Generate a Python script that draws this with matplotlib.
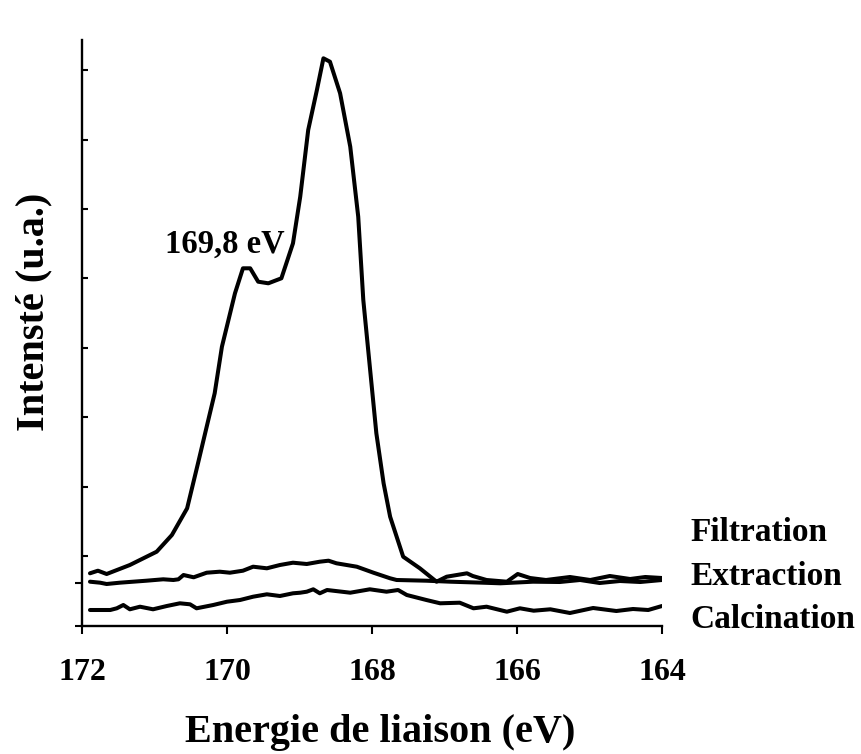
import numpy as np
import matplotlib
matplotlib.use('Agg')
import matplotlib.pyplot as plt

plt.rcParams['font.family'] = ['Liberation Serif', 'DejaVu Serif']
plt.rcParams['font.weight'] = 'bold'

# binding energy (eV) and intensity (a.u.)
filt_ev = [171.89, 171.78, 171.66, 171.34, 170.97, 170.76, 170.55, 170.40, 170.28, 170.17,
           170.07, 169.89, 169.78, 169.68, 169.57, 169.43, 169.25, 169.09, 168.99, 168.88,
           168.76, 168.67, 168.58, 168.44, 168.30, 168.19, 168.12, 168.03, 167.94, 167.84,
           167.75, 167.57, 167.34, 167.11, 166.97, 166.69, 166.61, 166.42, 166.14, 165.99,
           165.82, 165.60, 165.27, 164.99, 164.72, 164.44, 164.23, 164.00]
filt_int = [527, 553, 520, 610, 743, 910, 1177, 1627, 1993, 2327,
            2793, 3327, 3577, 3577, 3443, 3427, 3477, 3827, 4293, 4960,
            5360, 5677, 5643, 5327, 4793, 4093, 3260, 2593, 1927, 1427,
            1093, 693, 577, 443, 493, 527, 500, 460, 443, 520,
            480, 460, 490, 460, 500, 470, 490, 480]

extr_ev = [171.89, 171.75, 171.66, 171.48, 171.11, 170.88, 170.74, 170.67, 170.60, 170.46,
           170.28, 170.10, 169.96, 169.78, 169.64, 169.45, 169.27, 169.09, 168.90, 168.72,
           168.60, 168.49, 168.21, 167.98, 167.75, 167.66, 167.25, 166.92, 166.47, 166.23,
           165.78, 165.41, 165.13, 164.86, 164.58, 164.30, 164.00]
extr_int = [443, 433, 420, 433, 453, 467, 460, 467, 510, 487,
            533, 543, 533, 553, 593, 577, 610, 633, 620, 643,
            653, 627, 593, 533, 477, 460, 453, 443, 433, 427,
            443, 440, 460, 430, 450, 440, 460]

calc_ev = [171.89, 171.61, 171.52, 171.43, 171.34, 171.20, 171.02, 170.83, 170.65, 170.51,
           170.42, 170.19, 170.00, 169.82, 169.64, 169.45, 169.27, 169.09, 168.99, 168.90,
           168.81, 168.72, 168.62, 168.30, 168.03, 167.80, 167.64, 167.52, 167.25, 167.06,
           166.79, 166.60, 166.42, 166.14, 165.96, 165.77, 165.54, 165.27, 164.95, 164.63,
           164.40, 164.19, 164.00]
calc_int = [160, 160, 177, 210, 167, 193, 167, 200, 227, 217,
            177, 210, 243, 260, 293, 317, 300, 327, 333, 343,
            367, 327, 360, 333, 367, 343, 360, 310, 260, 227,
            233, 177, 193, 143, 177, 153, 167, 130, 180, 150,
            170, 160, 200]

labels = ['Filtration', 'Extraction', 'Calcination']
label_y = [850, 410, -20]
x_ticks = [172, 170, 168, 166, 164]
y_minor = [700, 1394, 2088, 2782, 3476, 4170, 4864, 5558]

fig = plt.figure(figsize=(8.62, 7.54), dpi=100)
ax = fig.add_axes([82/862, 128/754, 580/862, 586/754])

for ev, inten in [(filt_ev, filt_int), (extr_ev, extr_int), (calc_ev, calc_int)]:
    ax.plot(ev, inten, color='black', lw=2.9, solid_joinstyle='round', solid_capstyle='round')

ax.set_xlim(172, 164)
ax.set_ylim(0, 5860)
ax.spines['top'].set_visible(False)
ax.spines['right'].set_visible(False)
ax.spines['left'].set_linewidth(1.7)
ax.spines['bottom'].set_linewidth(1.7)

ax.set_xticks(x_ticks)
ax.set_xticklabels([str(t) for t in x_ticks], fontsize=23, fontweight='bold')
ax.tick_params(axis='x', direction='out', length=6, width=1.5, pad=17)
ax.set_yticks([0, 430])
ax.set_yticklabels([])
ax.set_yticks(y_minor, minor=True)
ax.tick_params(axis='y', which='major', direction='out', length=5, width=1.5)
ax.tick_params(axis='y', which='minor', direction='in', length=4, width=1.5)

ax.text(170.86, 3733, '169,8 eV', fontsize=23.5, fontweight='bold', ha='left', va='baseline')

for lab, yy in zip(labels, label_y):
    ax.text(163.61, yy, lab, fontsize=24, fontweight='bold', ha='left', va='baseline', clip_on=False)

fig.text(380/862, 12/754, 'Energie de liaison (eV)', fontsize=29, fontweight='bold',
         ha='center', va='baseline')
fig.text(34/862, 1 - 312/754, 'Intensté (u.a.)', fontsize=29, fontweight='bold',
         ha='center', va='center', rotation=90)

fig.savefig('out.png', dpi=100)
